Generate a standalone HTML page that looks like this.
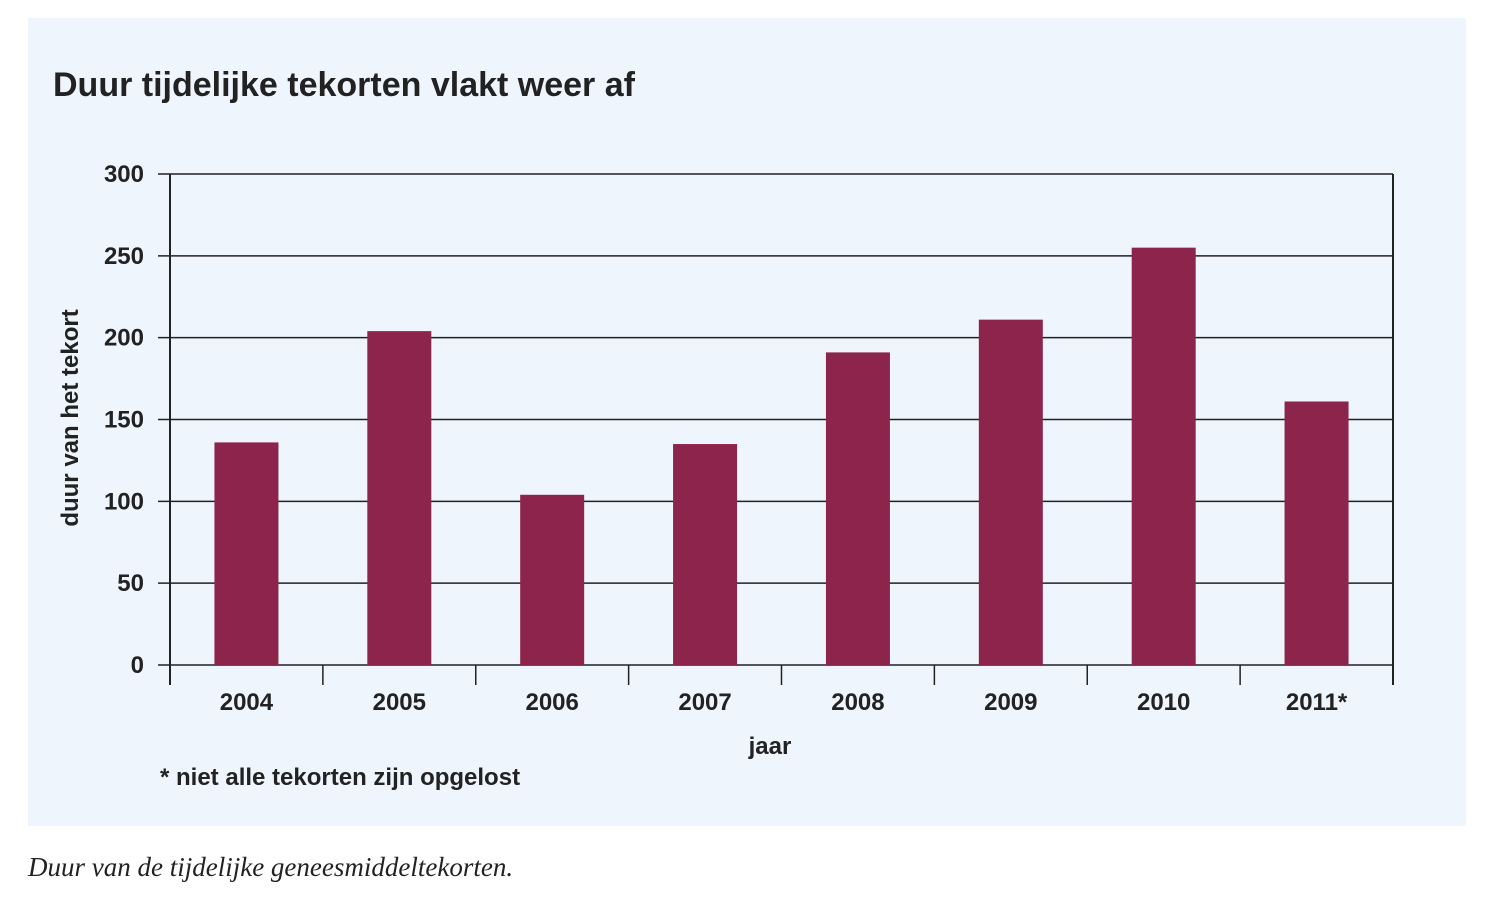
<!DOCTYPE html>
<html><head><meta charset="utf-8"><style>
body{margin:0;width:1488px;height:916px;background:#fff;font-family:"Liberation Sans",sans-serif;overflow:hidden}
</style></head><body>
<svg width="1488" height="916">
<rect x="28" y="18" width="1438" height="808" fill="#eef5fd"/>
<text x="53" y="96" font-size="34" font-weight="bold" fill="#222">Duur tijdelijke tekorten vlakt weer af</text>
<g id="grid"></g><g id="bars"></g><g id="axes"></g>
<text transform="translate(78,418) rotate(-90)" text-anchor="middle" font-size="24" font-weight="bold" fill="#222">duur van het tekort</text>
<text x="770" y="754" text-anchor="middle" font-size="24" font-weight="bold" fill="#222">jaar</text>
<text x="160" y="785" font-size="24" font-weight="bold" fill="#222">* niet alle tekorten zijn opgelost</text>
<text x="28" y="876" font-size="27" font-style="italic" font-family="Liberation Serif,serif" fill="#222">Duur van de tijdelijke geneesmiddeltekorten.</text>
</svg>
<script>
const categories=["2004","2005","2006","2007","2008","2009","2010","2011*"];
const values=[136,204,104,135,191,211,255,161];
const yTicks=[0,50,100,150,200,250,300];
const ns="http://www.w3.org/2000/svg";
const L=170,R=1393,T=174,B=665,YMAX=300;
const y=v=>B-(v/YMAX)*(B-T);
const band=(R-L)/categories.length;
const x=i=>L+band*i;
function mk(tag,attrs,parent){const e=document.createElementNS(ns,tag);for(const k in attrs)e.setAttribute(k,attrs[k]);parent.appendChild(e);return e;}
const grid=document.getElementById('grid'),bars=document.getElementById('bars'),axes=document.getElementById('axes');
yTicks.forEach(t=>{
 const l=mk('line',{x1:L-12,x2:R,y1:y(t),y2:y(t),stroke:'#222','stroke-width':1.5},grid);
 
 
 const tx=mk('text',{x:L-26,y:y(t)+8,'text-anchor':'end','font-size':24,'font-weight':'bold',fill:'#222'},axes);
 tx.textContent=t;
 
 
});
values.forEach((v,i)=>{
 const w=64,cx=x(i)+band/2;
 const r=mk('rect',{x:cx-w/2,y:y(v),width:w,height:B-y(v),fill:'#8c244b'},bars);
 
 
 const tx=mk('text',{x:cx,y:710,'text-anchor':'middle','font-size':24,'font-weight':'bold',fill:'#222'},axes);
 tx.textContent=categories[i];
 
 
});
for(let i=0;i<=categories.length;i++){
 const t=mk('line',{x1:x(i),x2:x(i),y1:B,y2:685,stroke:'#222','stroke-width':1.5},axes);
 
 
}
const la=mk('line',{x1:L,x2:L,y1:T,y2:685,stroke:'#222','stroke-width':2},axes);


const ra=mk('line',{x1:R,x2:R,y1:T,y2:685,stroke:'#222','stroke-width':2},axes);


</script>
</body></html>
